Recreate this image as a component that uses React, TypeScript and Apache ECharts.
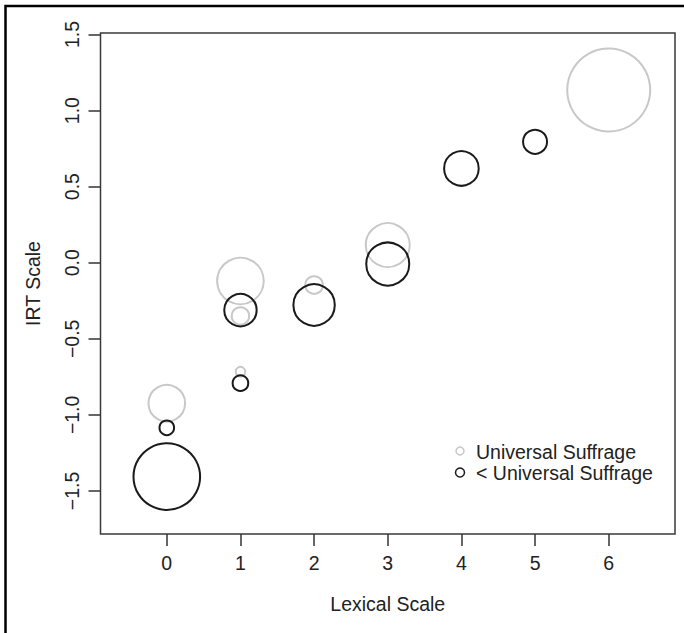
import React, { useEffect, useRef } from "react";
import * as echarts from "echarts";

// Tick values
const xTicks = [0, 1, 2, 3, 4, 5, 6];
const yTicks = [-1.5, -1.0, -0.5, 0.0, 0.5, 1.0, 1.5];

// Series: Universal Suffrage (grey)
const usLexical = [0, 1, 1, 1, 2, 3, 6];
const usIRT = [-0.924, -0.12, -0.35, -0.716, -0.147, 0.116, 1.135];
const usWeight = [19.3, 24.3, 9.7, 5.8, 9.8, 23.0, 42.5];

// Series: < Universal Suffrage (black)
const lusLexical = [0, 0, 1, 1, 2, 3, 4, 5];
const lusIRT = [-1.406, -1.085, -0.311, -0.792, -0.278, -0.009, 0.62, 0.795];
const lusWeight = [34.3, 8.3, 17.2, 8.8, 21.7, 22.5, 18.3, 13.0];

const seriesNames = ["Universal Suffrage", "< Universal Suffrage"];

const FONT = "'Liberation Sans', Arial, Helvetica, sans-serif";
const FS = 19.5;

const fmtY = (v: number) =>
  (v < 0 ? "\u2212" : "") + Math.abs(v).toFixed(1);

export default function App() {
  const ref = useRef<HTMLDivElement>(null);
  useEffect(() => {
    if (!ref.current) return;
    const chart = echarts.init(ref.current, null, { renderer: "svg" });
    const usData = usLexical.map((x, i) => [x, usIRT[i], usWeight[i]]);
    const lusData = lusLexical.map((x, i) => [x, lusIRT[i], lusWeight[i]]);
    const ringW = 2;
    const sizeFn = (v: number[]) => v[2] * 2 - ringW;
    chart.setOption({
      animation: false,
      backgroundColor: "#fff",
      textStyle: { fontFamily: FONT },
      grid: {
        left: 100.5,
        top: 33,
        right: 9,
        bottom: 99,
        show: true,
        borderColor: "#3a3a3a",
        borderWidth: 1.5,
        backgroundColor: "transparent",
      },
      xAxis: {
        type: "value",
        min: -0.9,
        max: 6.9,
        name: "Lexical Scale",
        nameLocation: "middle",
        nameGap: 60,
        nameTextStyle: { fontSize: FS, color: "#222", fontFamily: FONT },
        axisLine: { show: false, onZero: false },
        splitLine: { show: false },
        axisTick: {
          show: true,
          length: 12,
          customValues: xTicks,
          lineStyle: { color: "#333", width: 1.5 },
        },
        axisLabel: {
          customValues: xTicks,
          margin: 19,
          fontSize: FS,
          color: "#222",
          fontFamily: FONT,
        },
      },
      yAxis: {
        type: "value",
        min: -1.783,
        max: 1.51,
        name: "IRT Scale",
        nameLocation: "middle",
        nameGap: 57.5,
        nameTextStyle: { fontSize: FS, color: "#222", fontFamily: FONT },
        axisLine: { show: false, onZero: false },
        splitLine: { show: false },
        axisTick: {
          show: true,
          length: 12,
          customValues: yTicks,
          lineStyle: { color: "#333", width: 1.5 },
        },
        axisLabel: {
          customValues: yTicks,
          rotate: 90,
          margin: 19,
          fontSize: FS,
          color: "#222",
          fontFamily: FONT,
          formatter: (v: number) => fmtY(v),
        },
      },
      series: [
        {
          name: seriesNames[0],
          type: "scatter",
          data: usData,
          symbol: "circle",
          symbolSize: sizeFn,
          itemStyle: {
            color: "transparent",
            borderColor: "#c8c8c8",
            borderWidth: ringW,
            opacity: 1,
          },
          emphasis: { disabled: true },
          z: 2,
        },
        {
          name: seriesNames[1],
          type: "scatter",
          data: lusData,
          symbol: "circle",
          symbolSize: sizeFn,
          itemStyle: {
            color: "transparent",
            borderColor: "#1a1a1a",
            borderWidth: ringW,
            opacity: 1,
          },
          emphasis: { disabled: true },
          z: 3,
        },
      ],
      graphic: [
        {
          type: "rect",
          shape: { x: 5.5, y: 6, width: 1000, height: 1000 },
          style: { fill: "none", stroke: "#000", lineWidth: 2.5 },
          silent: true,
        },
        {
          type: "circle",
          shape: { cx: 460, cy: 451, r: 4 },
          style: { fill: "none", stroke: "#c8c8c8", lineWidth: 1.5 },
        },
        {
          type: "circle",
          shape: { cx: 460, cy: 472.5, r: 4.5 },
          style: { fill: "none", stroke: "#1a1a1a", lineWidth: 1.5 },
        },
        {
          type: "text",
          x: 476,
          y: 452,
          style: {
            text: seriesNames[0],
            fontSize: FS,
            fontFamily: FONT,
            fill: "#222",
            verticalAlign: "middle",
            align: "left",
          },
        },
        {
          type: "text",
          x: 476,
          y: 473,
          style: {
            text: seriesNames[1],
            fontSize: FS,
            fontFamily: FONT,
            fill: "#222",
            verticalAlign: "middle",
            align: "left",
          },
        },
      ],
    });
    return () => chart.dispose();
  }, []);
  return (
    <div
      ref={ref}
      style={{ position: "fixed", left: 0, top: 0, width: 684, height: 633 }}
    />
  );
}
